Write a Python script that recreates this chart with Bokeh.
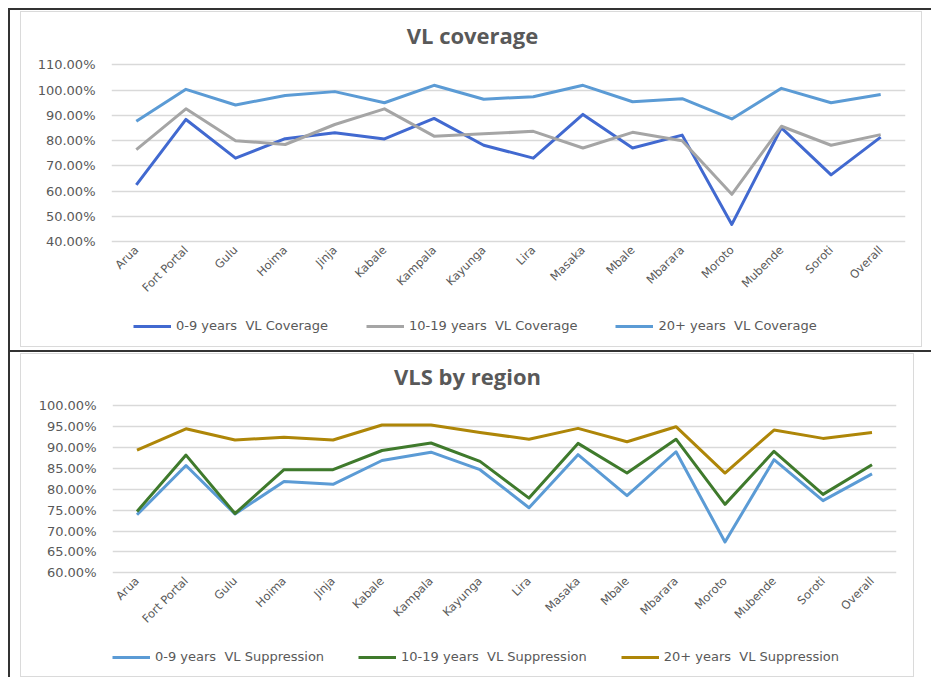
from bokeh.plotting import figure
from bokeh.models import Legend, LegendItem, NumeralTickFormatter, FixedTicker, Range1d, Label
from bokeh.layouts import column
from bokeh.embed import file_html
from bokeh.resources import INLINE
import math

regions = ["Arua", "Fort Portal", "Gulu", "Hoima", "Jinja", "Kabale", "Kampala", "Kayunga",
           "Lira", "Masaka", "Mbale", "Mbarara", "Moroto", "Mubende", "Soroti", "Overall"]

# VL coverage (fractions)
cov_0_9 = [0.625, 0.884, 0.731, 0.808, 0.831, 0.807, 0.888, 0.782, 0.731, 0.904, 0.771, 0.822, 0.469, 0.851, 0.665, 0.814]
cov_10_19 = [0.765, 0.926, 0.800, 0.785, 0.864, 0.926, 0.818, 0.827, 0.837, 0.771, 0.833, 0.800, 0.588, 0.857, 0.782, 0.824]
cov_20p = [0.877, 1.003, 0.941, 0.979, 0.994, 0.950, 1.019, 0.964, 0.974, 1.019, 0.954, 0.966, 0.886, 1.007, 0.950, 0.983]

# VL suppression (fractions)
sup_0_9 = [0.739, 0.857, 0.741, 0.819, 0.812, 0.869, 0.889, 0.847, 0.756, 0.883, 0.785, 0.890, 0.674, 0.871, 0.773, 0.837]
sup_10_19 = [0.747, 0.882, 0.742, 0.847, 0.847, 0.893, 0.911, 0.867, 0.779, 0.910, 0.839, 0.920, 0.764, 0.891, 0.788, 0.859]
sup_20p = [0.894, 0.945, 0.918, 0.925, 0.918, 0.954, 0.954, 0.936, 0.920, 0.946, 0.914, 0.950, 0.839, 0.942, 0.922, 0.936]

cov_ticks = [0.4, 0.5, 0.6, 0.7, 0.8, 0.9, 1.0, 1.1]
sup_ticks = [0.60, 0.65, 0.70, 0.75, 0.80, 0.85, 0.90, 0.95, 1.00]

cov_labels = ["0-9 years  VL Coverage", "10-19 years  VL Coverage", "20+ years  VL Coverage"]
sup_labels = ["0-9 years  VL Suppression", "10-19 years  VL Suppression", "20+ years  VL Suppression"]

TXT = "#595959"
GRID = "#D9D9D9"


def make_fig(title, title_dx, w, h, lb, rb, top_px, axis_px, ticks, series, colors, labels,
             leg_x, leg_y, leg_spacing):
    # canvas is (w-2) x (h-2) because of the 1px css border; the frame fills it vertically
    ch = h - 2
    y_lo, y_hi = ticks[0], ticks[-1]
    per_px = (y_hi - y_lo) / axis_px
    y_end = y_hi + top_px * per_px
    y_start = y_end - ch * per_px
    p = figure(x_range=regions, y_range=Range1d(y_start, y_end), width=w, height=h,
               output_backend="svg", toolbar_location=None,
               min_border_left=lb, min_border_right=rb, min_border_top=0, min_border_bottom=0)
    p.outline_line_color = None
    p.background_fill_color = "white"
    p.border_fill_color = "white"

    p.add_layout(Label(x=len(regions) / 2, y=y_hi, x_offset=title_dx, y_offset=30,
                       text=title, text_align="center", text_baseline="middle",
                       text_font="Open Sans", text_font_size="22px", text_font_style="bold",
                       text_color=TXT))

    p.xgrid.grid_line_color = None
    p.ygrid.grid_line_color = GRID
    p.ygrid.grid_line_width = 1.5

    p.yaxis.ticker = FixedTicker(ticks=ticks)
    p.yaxis.formatter = NumeralTickFormatter(format="0.00%")
    p.xaxis.fixed_location = y_lo
    for ax in (p.xaxis, p.yaxis):
        ax.axis_line_color = None
        ax.major_tick_line_color = None
        ax.minor_tick_line_color = None
        ax.major_tick_out = 0
        ax.major_tick_in = 0
        ax.major_label_text_color = TXT
        ax.major_label_text_font = "DejaVu Sans"
    p.yaxis.major_label_text_font_size = "13px"
    p.yaxis.major_label_standoff = 16
    p.xaxis.major_label_text_font_size = "11.5px"
    p.xaxis.major_label_orientation = math.pi / 4
    p.xaxis.major_label_standoff = 6

    items = []
    for ys, c, lab in zip(series, colors, labels):
        r = p.line(x=regions, y=ys, line_color=c, line_width=3, line_join="round")
        items.append(LegendItem(label=lab, renderers=[r]))

    lg = Legend(items=items, location=(leg_x, leg_y), orientation="horizontal",
                border_line_color=None, background_fill_alpha=0,
                padding=0, margin=0, spacing=leg_spacing,
                glyph_width=38, glyph_height=10, label_height=10,
                label_standoff=5,
                label_text_font="DejaVu Sans", label_text_font_size="13px",
                label_text_color=TXT)
    p.add_layout(lg, "center")
    return p


p1 = make_fig("VL coverage", -36, 902, 336, 90, 18, 52, 176, cov_ticks,
              [cov_0_9, cov_10_19, cov_20p], ["#4169D0", "#A5A5A5", "#5B9BD5"],
              cov_labels, 22, 15, 38)
p1.styles = {"border": "1px solid #DADADA"}

p2 = make_fig("VLS by region", -37, 894, 324, 91, 19, 51, 166, sup_ticks,
              [sup_0_9, sup_10_19, sup_20p], ["#5B9BD5", "#3F7A2C", "#AE8608"],
              sup_labels, 0, 14, 34)
p2.styles = {"border": "1px solid #DADADA"}

box1 = column(p1, styles={"border-top": "2px solid #333333", "border-left": "2px solid #333333",
                          "padding": "1px 9px 3px 10px"})
box2 = column(p2, styles={"border-top": "2px solid #333333", "border-left": "2px solid #333333",
                          "padding": "1px 17px 0px 10px"})
layout = column(box1, box2, spacing=0, styles={"padding": "8px 0px 0px 8px"})

open("out.html", "w").write(file_html(layout, INLINE))
